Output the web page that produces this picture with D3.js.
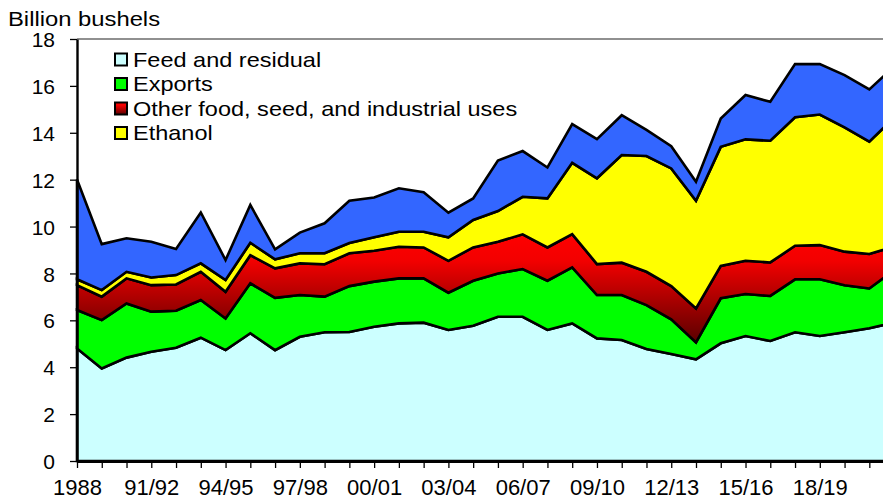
<!DOCTYPE html>
<meta charset="utf-8">
<html>
<head>
  <style>
    body { margin: 0; background: #fff; }
    svg { display: block; font-family: Arial, "Liberation Sans", sans-serif; }
  </style>
</head>
<body>
  <div class="chart"></div>

  <script src="https://d3js.org/d3.v7.min.js"></script>
  <script>
    // marketing years (tick every season, label every third)
    var seasons = ["1988", "89/90", "90/91", "91/92", "92/93", "93/94", "94/95", "95/96", "96/97", "97/98",
      "98/99", "99/00", "00/01", "01/02", "02/03", "03/04", "04/05", "05/06", "06/07", "07/08",
      "08/09", "09/10", "10/11", "11/12", "12/13", "13/14", "14/15", "15/16", "16/17", "17/18",
      "18/19", "19/20", "20/21", "21/22"];

    // billion bushels
    var feed = [4.80, 3.95, 4.41, 4.66, 4.83, 5.26, 4.73, 5.45, 4.73, 5.30, 5.49, 5.50, 5.73, 5.87, 5.90, 5.59, 5.77,
      6.15, 6.15, 5.59, 5.87, 5.23, 5.16, 4.78, 4.56, 4.34, 5.02, 5.33, 5.12, 5.49, 5.33, 5.49, 5.66, 5.91];
    var exports = [1.64, 2.06, 2.31, 1.71, 1.58, 1.61, 1.35, 2.13, 2.23, 1.78, 1.52, 1.96, 1.92, 1.92, 1.89, 1.59, 1.92,
      1.85, 2.04, 2.10, 2.39, 1.85, 1.92, 1.87, 1.48, 0.72, 1.92, 1.79, 1.92, 2.26, 2.42, 2.01, 1.70, 2.23];
    var otherUses = [1.06, 1.00, 1.07, 1.13, 1.12, 1.20, 1.14, 1.20, 1.26, 1.35, 1.38, 1.40, 1.32, 1.35, 1.32, 1.36, 1.42,
      1.35, 1.48, 1.42, 1.42, 1.32, 1.38, 1.42, 1.42, 1.45, 1.38, 1.42, 1.43, 1.43, 1.46, 1.43, 1.47, 1.00];
    var ethanol = [0.25, 0.28, 0.28, 0.33, 0.40, 0.36, 0.50, 0.53, 0.38, 0.43, 0.47, 0.44, 0.57, 0.64, 0.67, 1.00, 1.17,
      1.31, 1.60, 2.09, 3.04, 3.66, 4.59, 4.94, 5.02, 4.59, 5.08, 5.18, 5.19, 5.48, 5.57, 5.30, 4.79, 5.51];
    var stocks = [4.26, 1.96, 1.43, 1.52, 1.11, 2.17, 0.85, 1.61, 0.43, 0.88, 1.28, 1.80, 1.70, 1.85, 1.68, 1.05, 0.92,
      2.16, 1.95, 1.32, 1.65, 1.67, 1.70, 1.11, 0.95, 0.81, 1.21, 1.89, 1.66, 2.27, 2.15, 2.23, 2.23, 2.18];

    var seriesNames = ["Feed and residual", "Exports", "Other food, seed, and industrial uses", "Ethanol", "Stocks"];
    var legendNames = ["Feed and residual", "Exports", "Other food, seed, and industrial uses", "Ethanol"];
    var yTicks = [0, 2, 4, 6, 8, 10, 12, 14, 16, 18];

    var width = 883, height = 502;
    var plotLeft = 77, plotTop = 39, plotBottom = 461;

    var svg = d3.select(".chart").append("svg")
      .attr("width", width)
      .attr("height", height);

    var defs = svg.append("defs");
    // red band fades to maroon towards its bottom
    var grad = defs.append("linearGradient")
      .attr("id", "redFade")
      .attr("x1", 0).attr("y1", 0).attr("x2", 0).attr("y2", 1);
    grad.append("stop").attr("offset", 0).attr("stop-color", "#ff0000");
    grad.append("stop").attr("offset", 0.25).attr("stop-color", "#f20000");
    grad.append("stop").attr("offset", 1).attr("stop-color", "#5a0000");

    var colors = ["#ccffff", "#00ff00", "url(#redFade)", "#ffff00", "#3366ff"];

    var rows = seasons.map(function (s, i) {
      var r = { season: s };
      r[seriesNames[0]] = feed[i];
      r[seriesNames[1]] = exports[i];
      r[seriesNames[2]] = otherUses[i];
      r[seriesNames[3]] = ethanol[i];
      r[seriesNames[4]] = stocks[i];
      return r;
    });

    var x = d3.scalePoint()
      .domain(seasons)
      .range([plotLeft, plotLeft + 24.76 * (seasons.length - 1)]);

    var y = d3.scaleLinear()
      .domain([0, 18])
      .range([plotBottom, plotTop]);

    var stacked = d3.stack().keys(seriesNames)(rows);

    var area = d3.area()
      .x(function (d) { return x(d.data.season); })
      .y0(function (d) { return y(d[0]); })
      .y1(function (d) { return y(d[1]); });

    // stacked layers, black outlines
    svg.append("g")
      .selectAll("path")
      .data(stacked)
      .join("path")
      .attr("d", area)
      .attr("fill", function (d, i) { return colors[i]; })
      .attr("stroke", "#000")
      .attr("stroke-width", 2.6)
      .attr("stroke-linejoin", "miter");

    // top border of the plot area
    svg.append("line")
      .attr("x1", plotLeft).attr("x2", width)
      .attr("y1", y(18)).attr("y2", y(18))
      .attr("stroke", "#222")
      .attr("stroke-width", 1.2);

    // y axis
    var yAxis = svg.append("g")
      .attr("transform", "translate(" + plotLeft + ",0)")
      .call(d3.axisLeft(y).tickValues(yTicks).tickSize(7).tickSizeOuter(0).tickPadding(15));
    yAxis.select(".domain").attr("stroke", "#000").attr("stroke-width", 2.4);
    yAxis.selectAll(".tick line").attr("stroke", "#000").attr("stroke-width", 1.3);
    yAxis.selectAll("text")
      .attr("font-size", 21)
      .attr("font-family", "Arial, 'Liberation Sans', sans-serif")
      .attr("fill", "#000")
      .attr("dy", "0.36em");

    // x axis
    var xAxis = svg.append("g")
      .attr("transform", "translate(0," + plotBottom + ")")
      .call(d3.axisBottom(x).tickSize(7).tickSizeOuter(0)
        .tickFormat(function (d, i) { return (i % 3 == 0 && i < 33) ? d : ""; }));
    xAxis.select(".domain").attr("stroke", "#000").attr("stroke-width", 2.8);
    xAxis.selectAll(".tick line").attr("stroke", "#000").attr("stroke-width", 1.3);
    xAxis.selectAll("text")
      .attr("font-size", 22)
      .attr("font-family", "Arial, 'Liberation Sans', sans-serif")
      .attr("fill", "#000")
      .attr("y", 34)
      .attr("dy", 0);

    // unit title
    svg.append("text")
      .attr("transform", "translate(8,25.5) scale(1.19,1)")
      .attr("font-size", 20)
      .text("Billion bushels");

    // legend
    var legend = svg.append("g")
      .selectAll("g")
      .data(legendNames)
      .join("g")
      .attr("transform", function (d, i) { return "translate(115," + (53.5 + i * 24.5) + ")"; });

    legend.append("rect")
      .attr("width", 12)
      .attr("height", 12)
      .attr("fill", function (d, i) { return colors[i]; })
      .attr("stroke", "#000")
      .attr("stroke-width", 2);

    legend.append("text")
      .attr("transform", "translate(18,13.2) scale(1.12,1)")
      .attr("font-size", 21)
      .text(function (d) { return d; });
  </script>
</body>
</html>
